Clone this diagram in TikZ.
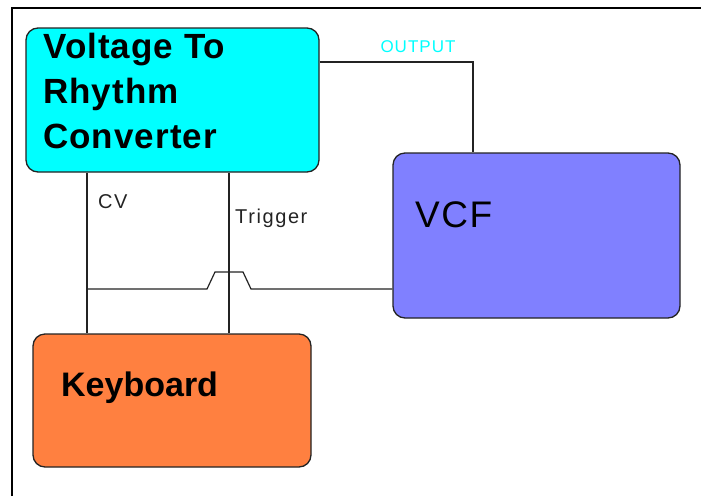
\documentclass[tikz,border=0pt]{standalone}
\usepackage{fontspec}
\setmainfont{Liberation Sans}
\definecolor{convcyan}{RGB}{0,255,255}
\definecolor{vcfblue}{RGB}{128,128,255}
\definecolor{keyorange}{RGB}{255,128,64}
\definecolor{edgegray}{RGB}{35,35,35}
\tikzset{
    block/.style = {draw=edgegray, line width=1.3pt, rounded corners=12pt, inner sep=0pt},
    wire/.style = {draw=edgegray, line width=1.2pt},
    smalltext/.style = {font=\fontsize{20}{24}\selectfont\addfontfeature{LetterSpace=8}},
}
\begin{document}
\begin{tikzpicture}[x=1pt, y=-1pt]
        \useasboundingbox (0,0) rectangle (701,496);
        \draw[line width=1.2pt] (12,496) -- (12,8) -- (701,8);
        \begin{scope}[every node/.style = {block}]
            \node[fill=convcyan, minimum width=293pt, minimum height=144pt] (vtr) at (172.5,100) {};
            \node[fill=vcfblue, minimum width=287pt, minimum height=165pt] (vcf) at (536.5,235.5) {};
            \node[fill=keyorange, minimum width=278pt, minimum height=133pt] (kbd) at (172,400.5) {};
        \end{scope}
        \begin{scope}[every node/.style = {inner sep=0pt}]
            \node[anchor=north west, align=left, font=\fontsize{35}{45}\selectfont\bfseries\addfontfeature{LetterSpace=3}] (vtrtext) at (43,33) {Voltage To\\Rhythm\\Converter};
            \node[anchor=base west, font=\fontsize{37}{44}\selectfont\addfontfeature{LetterSpace=4}] (vcftext) at (415,227) {VCF};
            \node[anchor=base west, font=\fontsize{34}{40}\selectfont\bfseries] (kbdtext) at (61,396) {Keyboard};
            \node[anchor=base west, smalltext, text=edgegray] (cvtext) at (98,208) {CV};
            \node[anchor=base west, smalltext, text=edgegray] (trigtext) at (235,223) {Trigger};
            \node[anchor=base, font=\fontsize{17}{20}\selectfont\addfontfeature{LetterSpace=6}, text=convcyan] (outtext) at (418,52) {OUTPUT};
        \end{scope}
        \coordinate (outbend) at (473,62);
        \coordinate (cv) at (87,289);
        \coordinate (trig) at (229,289);
        % output to the filter
        \draw[wire] (vtr.east |- outbend) -- (outbend) -- (vcf.north -| outbend);
        % control voltage and trigger lines
        \draw[wire] (vtr.south -| cv) -- (kbd.north -| cv);
        \draw[wire] (vtr.south -| trig) -- (kbd.north -| trig);
        % keyboard cv to filter, hopping over the trigger line
        \draw[wire] (cv) -- ([xshift=-22pt]trig) -- ([xshift=-14pt, yshift=17pt]trig)
            -- ([xshift=14pt, yshift=17pt]trig) -- ([xshift=22pt]trig) -- (vcf.west |- cv);
    \end{tikzpicture}
\end{document}
